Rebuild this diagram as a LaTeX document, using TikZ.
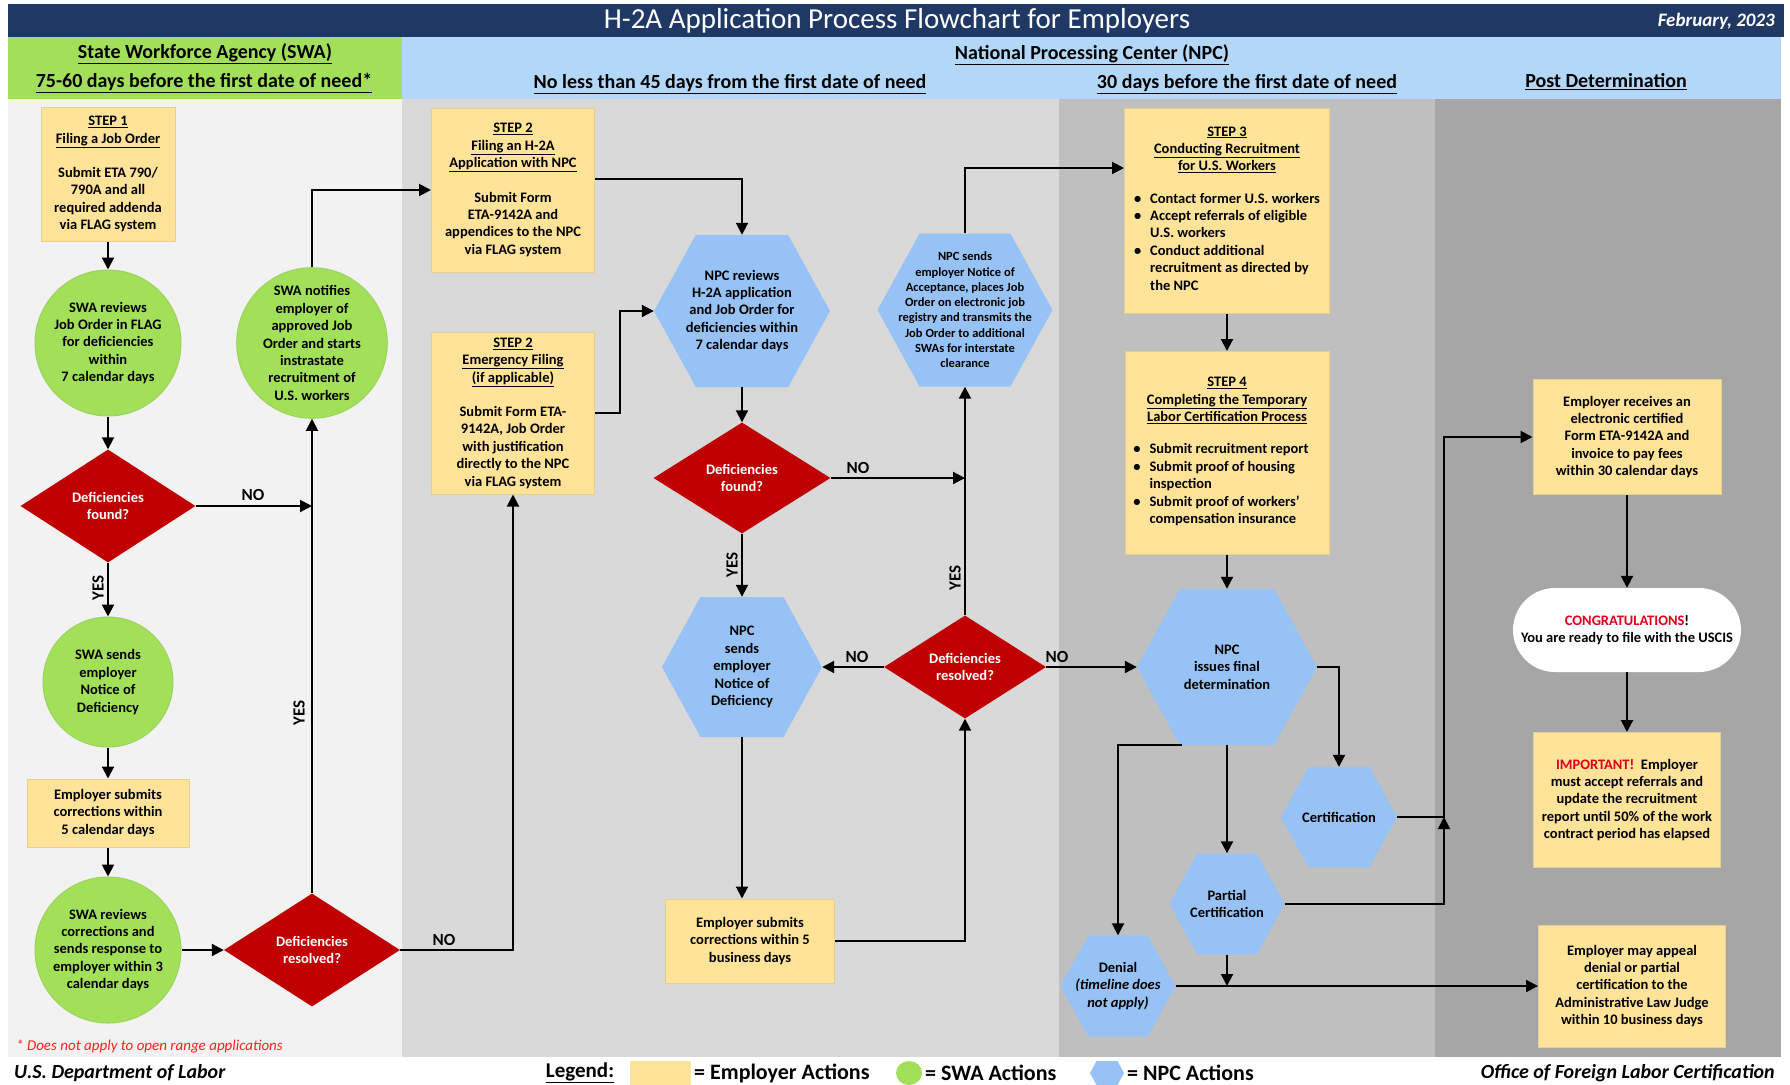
\documentclass[tikz,border=0pt]{standalone}
\usepackage{fontspec}
\setmainfont{Carlito}
\usetikzlibrary{arrows.meta,shapes.geometric,shapes.misc,calc}

\definecolor{navyband}{HTML}{1F3864}
\definecolor{swagreen}{HTML}{A3E05A}
\definecolor{npcband}{HTML}{B3D7F8}
\definecolor{npcblue}{HTML}{96C2F5}
\definecolor{empyellow}{HTML}{FFE398}
\definecolor{decisionred}{HTML}{C00000}
\definecolor{alertred}{HTML}{E0001B}
\definecolor{notered}{HTML}{FF2020}
\definecolor{colA}{HTML}{F2F2F2}
\definecolor{colB}{HTML}{D9D9D9}
\definecolor{colC}{HTML}{BFBFBF}
\definecolor{colD}{HTML}{A6A6A6}

\tikzset{npc/.style 2 args={minimum width=#1, minimum height=#2,
    path picture={\fill[npcblue] let \p1=(path picture bounding box.south west),
        \p2=(path picture bounding box.north east), \n1={0.275*(\y2-\y1)} in
        (\x1,{0.5*(\y1+\y2)}) -- (\x1+\n1,\y2) -- (\x2-\n1,\y2) -- (\x2,{0.5*(\y1+\y2)})
        -- (\x2-\n1,\y1) -- (\x1+\n1,\y1) -- cycle;}}}

\begin{document}
\begin{tikzpicture}[x=1pt,y=-1pt]
        \tikzstyle{every node}=[font=\fontsize{14.5}{17.4}\selectfont\bfseries, align=center, inner sep=0pt]
        \tikzstyle{employer}=[rectangle, fill=empyellow, draw=empyellow!80!gray, line width=1pt]
        \tikzstyle{swa}=[circle, fill=swagreen, draw=swagreen!85!gray, line width=1pt]
        \tikzstyle{decision}=[diamond, fill=decisionred, text=white]
        \tikzstyle{arr}=[line width=2pt, -{Triangle[length=12pt,width=12pt]}]
        \tikzstyle{yesno}=[font=\fontsize{17}{20}\selectfont\bfseries]
        \tikzstyle{head}=[font=\fontsize{20}{24}\selectfont\bfseries]
        \tikzstyle{legendtext}=[font=\fontsize{22}{24}\selectfont\bfseries, anchor=west]
        \useasboundingbox (0,0) rectangle (1790,1084);

        %bands
        \fill [navyband] (8,4) rectangle (1784,37);
        \fill [swagreen] (8,37) rectangle (402,99);
        \fill [npcband] (402,37) rectangle (1781,99);
        \fill [colA] (8,99) rectangle (402,1057);
        \fill [colB] (402,99) rectangle (1059,1057);
        \fill [colC] (1059,99) rectangle (1435,1057);
        \fill [colD] (1435,99) rectangle (1781,1057);

        \node[font=\fontsize{29}{34}\selectfont, text=white] (title) at (897,21) {H-2A Application Process Flowchart for Employers};
        \node[font=\fontsize{19}{22}\selectfont\bfseries\itshape, text=white, anchor=east] (date) at (1775,21) {February, 2023};
        \node[head] (swahead) at (205,54) {\underline{State Workforce Agency (SWA)}};
        \node[head] (swatime) at (204,83) {\underline{75-60 days before the first date of need*}};
        \node[head] (npchead) at (1092,55) {\underline{National Processing Center (NPC)}};
        \node[head] (npctime) at (730,84) {\underline{No less than 45 days from the first date of need}};
        \node[head] (rectime) at (1247,84) {\underline{30 days before the first date of need}};
        \node[head] (posthead) at (1606,82) {\underline{Post Determination}};

        %state workforce agency
        \node[employer, minimum width=134, minimum height=134] (step1) at (108,174)
            {\underline{STEP 1}\\\underline{Filing a Job Order}\\[17pt]Submit ETA 790/\\790A and all\\required addenda\\via FLAG system};
        \node[swa, minimum size=146] (swarev) at (108,343)
            {SWA reviews\\Job Order in FLAG\\for deficiencies\\within\\7 calendar days};
        \node[decision, minimum width=175, minimum height=113] (found1) at (108,506) {Deficiencies\\found?};
        \node[swa, minimum size=130] (swasend) at (108,682) {SWA sends\\employer\\Notice of\\Deficiency};
        \node[employer, minimum width=162, minimum height=68] (empsub1) at (108,813)
            {Employer submits\\corrections within\\5 calendar days};
        \node[swa, minimum size=146] (swacorr) at (108,950)
            {SWA reviews\\corrections and\\sends response to\\employer within 3\\calendar days};
        \node[decision, minimum width=176, minimum height=113] (resolved1) at (312,950) {Deficiencies\\resolved?};
        \node[swa, minimum size=146] (swanotify) at (312,343)
            {SWA notifies\\employer of\\approved Job\\Order and starts\\instrastate\\recruitment of\\U.S. workers};

        %filing with the npc
        \node[employer, minimum width=163, minimum height=164] (step2) at (513,190)
            {\underline{STEP 2}\\\underline{Filing an H-2A}\\\underline{Application with NPC}\\[17pt]Submit Form\\ETA-9142A and\\appendices to the NPC\\via FLAG system};
        \node[employer, minimum width=163, minimum height=162] (emerg) at (513,413)
            {\underline{STEP 2}\\\underline{Emergency Filing}\\\underline{(if applicable)}\\[17pt]Submit Form ETA-\\9142A, Job Order\\with justification\\directly to the NPC\\via FLAG system};
        \node[npc={176}{152}] (npcrev) at (742,311)
            {NPC reviews\\H-2A application\\and Job Order for\\deficiencies within\\7 calendar days};
        \node[decision, minimum width=177, minimum height=111] (found2) at (742,478) {Deficiencies\\found?};
        \node[npc={160}{140}] (npcdef) at (742,667) {NPC\\sends\\employer\\Notice of\\Deficiency};
        \node[employer, minimum width=169, minimum height=84] (empsub2) at (750,941)
            {Employer submits\\corrections within 5\\business days};
        \node[decision, minimum width=162, minimum height=103] (resolved2) at (965,667) {Deficiencies\\resolved?};
        \node[npc={175}{153}, font=\fontsize{12.5}{15.3}\selectfont\bfseries] (accept) at (965,310)
            {NPC sends\\employer Notice of\\Acceptance, places Job\\Order on electronic job\\registry and transmits the\\Job Order to additional\\SWAs for interstate\\clearance};

        %recruitment and determination
        \node[employer, minimum width=205, minimum height=205] (step3) at (1227,211)
            {\underline{STEP 3}\\\underline{Conducting Recruitment}\\\underline{for U.S. Workers}\\[17pt]
             \begin{tabular}{@{}l@{\hspace{9pt}}l@{}}
             \textbullet & Contact former U.S. workers\\
             \textbullet & Accept referrals of eligible\\
              & U.S. workers\\
             \textbullet & Conduct additional\\
              & recruitment as directed by\\
              & the NPC
             \end{tabular}};
        \node[employer, minimum width=204, minimum height=203] (step4) at (1227,453)
            {\underline{STEP 4}\\\underline{Completing the Temporary}\\\underline{Labor Certification Process}\\[17pt]
             \begin{tabular}{@{}l@{\hspace{9pt}}l@{}}
             \textbullet & Submit recruitment report\\
             \textbullet & Submit proof of housing\\
              & inspection\\
             \textbullet & Submit proof of workers'\\
              & compensation insurance
             \end{tabular}\hspace*{12pt}};
        \node[npc={180}{156}] (final) at (1227,667) {NPC\\issues final\\determination};
        \node[npc={116}{100}] (cert) at (1339,817) {Certification};
        \node[npc={115}{101}] (partial) at (1227,904) {Partial\\Certification};
        \node[npc={115}{101}] (denial) at (1118,986) {Denial\\\textit{(timeline does}\\\textit{not apply)}};
        \coordinate (jn) at (1444,817);

        %post determination
        \node[employer, minimum width=188, minimum height=115] (receive) at (1627,437)
            {Employer receives an\\electronic certified\\Form ETA-9142A and\\invoice to pay fees\\within 30 calendar days};
        \node[rounded rectangle, fill=white, minimum width=228, minimum height=84] (congrats) at (1627,630)
            {{\color{alertred}CONGRATULATIONS}!\\You are ready to file with the USCIS};
        \node[employer, minimum width=187, minimum height=135] (important) at (1627,800)
            {{\color{alertred}IMPORTANT!}\ \ Employer\\must accept referrals and\\update the recruitment\\report until 50\% of the work\\contract period has elapsed};
        \node[employer, minimum width=187, minimum height=122] (appeal) at (1632,986)
            {Employer may appeal\\denial or partial\\certification to the\\Administrative Law Judge\\within 10 business days};

        %connectors
        \draw[arr] (step1.south) -- (swarev.north);
        \draw[arr] (swarev.south) -- (found1.north);
        \draw[arr] (found1.east) -- (found1.east -| swanotify.south);
            \node[yesno] (no1) at (253,495) {NO};
        \draw[arr] (found1.south) -- (swasend.north);
            \node[yesno, rotate=90] (yes1) at (98,588) {YES};
        \draw[arr] (swasend.south) -- (empsub1.north);
        \draw[arr] (empsub1.south) -- (swacorr.north);
        \draw[arr] (swacorr.east) -- (resolved1.west);
        \draw[arr] (resolved1.north) -- (swanotify.south);
            \node[yesno, rotate=90] (yes2) at (299,713) {YES};
        \draw[arr] (resolved1.east) -| (emerg.south);
            \node[yesno] (no2) at (444,940) {NO};
        \draw[arr] (swanotify.north) |- (step2.west);
        \draw[arr] ([yshift=11pt]step2.east) -| (npcrev.north);
        \draw[arr] (emerg.east) -- ++(25,0) |- (npcrev.west);
        \draw[arr] (npcrev.south) -- (found2.north);
        \draw[arr] (found2.east) -- (found2.east -| accept.south);
            \node[yesno] (no3) at (858,468) {NO};
        \draw[arr] (found2.south) -- (npcdef.north);
            \node[yesno, rotate=90] (yes3) at (732,565) {YES};
        \draw[arr] (npcdef.south) -- (npcdef.south |- empsub2.north);
        \draw[arr] (empsub2.east) -| (resolved2.south);
        \draw[arr] (resolved2.west) -- (npcdef.east);
            \node[yesno] (no4) at (857,657) {NO};
        \draw[arr] (resolved2.north) -- (accept.south);
            \node[yesno, rotate=90] (yes4) at (955,578) {YES};
        \draw[arr] (accept.north) |- ([yshift=43pt]step3.west);
        \draw[arr] (step3.south) -- (step4.north);
        \draw[arr] (step4.south) -- (final.north);
        \draw[arr] (resolved2.east) -- (final.west);
            \node[yesno] (no5) at (1057,657) {NO};
        \draw[arr] (final.east) -| (cert.north);
        \draw[arr] ([xshift=-45pt]final.south) -| (denial.north);
        \draw[arr] (final.south) -- (partial.north);
        \draw[arr] (partial.south) -- (partial.south |- denial.east);
        \draw[arr] (denial.east) -- (appeal.west);
        \draw[arr] (cert.east) -- (jn) |- (receive.west);
        \draw[arr] (partial.east) -| (jn);
        \draw[arr] (receive.south) -- (congrats.north);
        \draw[arr] (congrats.south) -- (important.north);

        %footer
        \node[font=\fontsize{15}{18}\selectfont\itshape, text=notered, anchor=west] (note) at (16,1046) {* Does not apply to open range applications};
        \node[font=\fontsize{20}{24}\selectfont\bfseries\itshape, anchor=west] (dol) at (14,1073) {U.S. Department of Labor};
        \node[font=\fontsize{20}{24}\selectfont\bfseries\itshape, anchor=east] (oflc) at (1775,1073) {Office of Foreign Labor Certification};
        \node[font=\fontsize{21}{24}\selectfont\bfseries] (legend) at (580,1073) {\underline{Legend:}};
        \node[rectangle, fill=empyellow, minimum width=61, minimum height=24] (legemp) at (660,1073) {};
        \node[legendtext] (legemptxt) at (694,1073) {= Employer Actions};
        \node[ellipse, fill=swagreen, minimum width=26, minimum height=24] (legswa) at (909,1073) {};
        \node[legendtext] (legswatxt) at (925,1073) {= SWA Actions};
        \node[npc={34}{24}] (legnpc) at (1107,1073) {};
        \node[legendtext] (legnpctxt) at (1127,1073) {= NPC Actions};
\end{tikzpicture}
\end{document}
